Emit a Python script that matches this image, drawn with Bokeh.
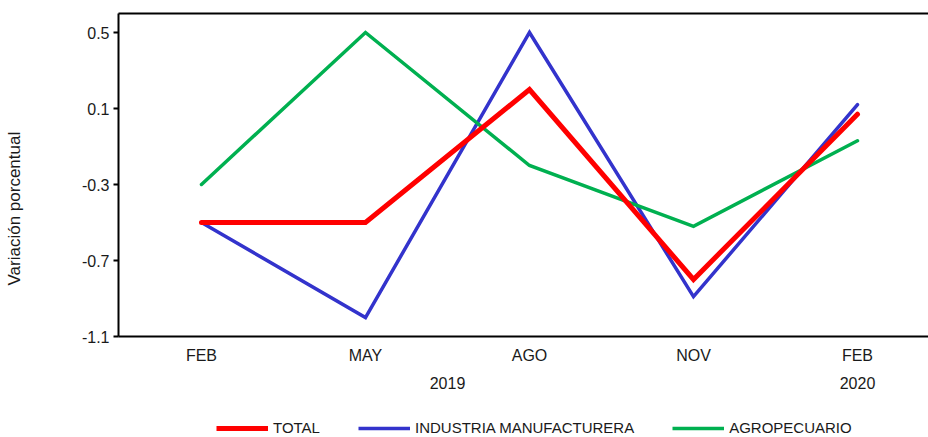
from bokeh.plotting import figure
from bokeh.layouts import column
from bokeh.models import (Range1d, LinearAxis, FixedTicker, Legend, LegendItem, Title)
from bokeh.embed import file_html
from bokeh.resources import INLINE

months = ["FEB", "MAY", "AGO", "NOV", "FEB"]
years = ["2019", "2020"]
year_pos = [1.5, 4.0]
total = [-0.5, -0.5, 0.2, -0.8, 0.07]
industria = [-0.5, -1.0, 0.5, -0.89, 0.12]
agro = [-0.3, 0.5, -0.2, -0.52, -0.07]
y_ticks = [-1.1, -0.7, -0.3, 0.1, 0.5]
series_names = ["TOTAL", "INDUSTRIA MANUFACTURERA", "AGROPECUARIO"]

FONT = "Liberation Sans"
TXT = "#1a1a1a"
x = list(range(len(months)))

p = figure(frame_width=810, frame_height=323, output_backend="svg", toolbar_location=None,
           x_range=Range1d(-0.506, 4.433), y_range=Range1d(-1.1, 0.6),
           x_axis_location=None, y_axis_location=None,
           min_border_left=118, min_border_right=0, min_border_top=13, min_border_bottom=83)
p.outline_line_color = None
p.grid.visible = False
p.background_fill_color = "white"
p.border_fill_color = "white"

# left axis (invisible spacer label widens the panel so the title sits far left)
ya = LinearAxis(ticker=FixedTicker(ticks=y_ticks))
ya.major_label_overrides = {t: f"{t:.1f}" for t in y_ticks}
ya.axis_line_color = "black"
ya.axis_line_width = 2
ya.major_tick_out = 5
ya.major_tick_in = 0
ya.major_tick_line_width = 2
ya.minor_tick_out = 0
ya.minor_tick_in = 0
ya.major_label_text_font = FONT
ya.major_label_text_font_size = "16px"
ya.major_label_text_color = TXT
ya.major_label_standoff = 4
ya.axis_label = "\u00a0"
ya.axis_label_text_font_size = "1px"
ya.axis_label_text_alpha = 0
ya.axis_label_standoff = 51
p.add_layout(ya, "left")

ytitle = Title(text="Variación porcentual", align="left", offset=51, standoff=0,
               vertical_align="bottom",
               text_font=FONT, text_font_size="17px", text_font_style="normal",
               text_color=TXT)
p.add_layout(ytitle, "left")

# top line
ta = LinearAxis(ticker=FixedTicker(ticks=[0]))
ta.major_label_overrides = {0: " "}
ta.axis_line_color = "black"
ta.axis_line_width = 2
ta.major_tick_out = 0
ta.major_tick_in = 0
ta.minor_tick_out = 0
ta.minor_tick_in = 0
ta.major_label_standoff = 0
ta.major_label_text_font_size = "1px"
p.add_layout(ta, "above")

# bottom month axis
xa = LinearAxis(ticker=FixedTicker(ticks=x))
xa.major_label_overrides = {i: m for i, m in enumerate(months)}
xa.axis_line_color = "black"
xa.axis_line_width = 2
xa.major_tick_out = 0
xa.major_tick_in = 0
xa.minor_tick_out = 0
xa.minor_tick_in = 0
xa.major_label_text_font = FONT
xa.major_label_text_font_size = "16px"
xa.major_label_text_color = TXT
xa.major_label_standoff = 10
p.add_layout(xa, "below")

# year axis
xa2 = LinearAxis(ticker=FixedTicker(ticks=year_pos))
xa2.major_label_overrides = {pos: yr for pos, yr in zip(year_pos, years)}
xa2.axis_line_color = None
xa2.major_tick_out = 0
xa2.major_tick_in = 0
xa2.minor_tick_out = 0
xa2.minor_tick_in = 0
xa2.major_label_text_font = FONT
xa2.major_label_text_font_size = "16px"
xa2.major_label_text_color = TXT
xa2.major_label_standoff = 10
p.add_layout(xa2, "below")

styles = [dict(line_color="#FF0000", line_width=5),
          dict(line_color="#3333CC", line_width=3.5),
          dict(line_color="#00B050", line_width=3.5)]
data = [total, industria, agro]

r_ind = p.line(x, industria, line_join="miter", line_cap="round", **styles[1])
r_agro = p.line(x, agro, line_join="miter", line_cap="round", **styles[2])
r_total = p.line(x, total, line_join="miter", line_cap="round", **styles[0])

# legend strip (same series, drawn out of view so only the legend shows)
leg = figure(width=928, height=18, output_backend="svg", toolbar_location=None,
             x_range=Range1d(0, 1), y_range=Range1d(10, 11),
             x_axis_location=None, y_axis_location=None,
             min_border_left=0, min_border_right=0, min_border_top=0, min_border_bottom=0)
leg.outline_line_color = None
leg.grid.visible = False
leg.background_fill_color = "white"
leg.border_fill_color = "white"
items = []
for name, vals, st in zip(series_names, data, styles):
    r = leg.line(x, vals, line_cap="butt", **st)
    items.append(LegendItem(label=name, renderers=[r]))

legend = Legend(items=items, orientation="horizontal", location=(98, 1))
legend.glyph_width = 52
legend.glyph_height = 16
legend.label_height = 16
legend.label_standoff = 5
legend.spacing = 38
legend.padding = 0
legend.margin = 0
legend.border_line_color = None
legend.background_fill_alpha = 0
legend.label_text_font = FONT
legend.label_text_font_size = "15px"
legend.label_text_color = TXT
leg.add_layout(legend)

layout = column(p, leg, spacing=0)
open("out.html", "w").write(file_html(layout, INLINE))
